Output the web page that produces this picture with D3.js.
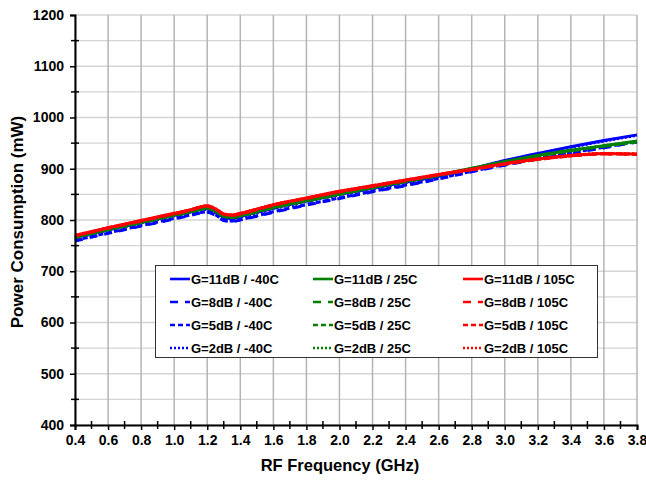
<!DOCTYPE html>
<meta charset="utf-8">
<style>
body { margin: 0; background: #fff; }
text { font-family: "Liberation Sans", Arial, sans-serif; font-weight: bold; fill: #000; }
</style>
<svg width="646" height="481"></svg>
<script src="https://d3js.org/d3.v7.min.js"></script>
<script>

// frequency points (GHz)
var freqs = [0.4,0.6,0.8,1.0,1.1,1.15,1.2,1.25,1.3,1.35,1.4,1.6,1.8,2.0,2.2,2.4,2.6,2.8,3.0,3.2,3.4,3.6,3.8];

// power consumption (mW), one array per gain / temperature
var g11_m40  = [766,781,795,809,816,820,822,816,805,803,807,823,837,850,862,874,886,900,916,930,943,955,966];
var g8_m40   = [759,774,788,802,809,813,815,809,799,797,800,815,829,842,855,867,880,894,907,919,930,941,952];
var g5_m40   = [760,775,789,803,810,814,816,810,800,798,801,816,830,843,856,868,881,895,908,920,931,942,953];
var g2_m40   = [765,780,794,808,815,819,821,815,804,802,806,822,836,849,861,873,885,899,915,929,942,954,965];

var g11_25   = [767,782,796,810,817,821,824,818,808,806,809,825,838,851,864,876,888,901,914,926,936,945,954];
var g8_25    = [766,781,795,809,816,820,823,817,807,805,808,824,837,850,863,875,887,900,913,925,935,944,953];
var g5_25    = [766,781,795,809,816,820,823,817,807,805,808,824,837,850,863,875,887,900,913,925,935,944,952];
var g2_25    = [766,781,795,809,816,820,823,817,807,805,808,824,838,851,863,875,887,900,913,925,936,945,953];

var g11_105  = [770,785,799,813,820,825,828,822,812,810,813,830,843,856,867,878,889,899,910,919,926,930,929];
var g8_105   = [769,784,798,812,819,824,827,821,811,809,812,829,842,855,866,877,888,898,909,918,925,929,928];
var g5_105   = [769,784,798,812,819,824,827,821,811,809,812,829,842,855,866,877,888,898,909,918,925,929,928];
var g2_105   = [770,785,799,813,820,825,828,822,812,810,813,830,843,856,867,878,889,899,910,919,926,930,929];

var gains = ["11dB", "8dB", "5dB", "2dB"];
var temps = ["-40C", "25C", "105C"];
var values = [
  [g11_m40, g11_25, g11_105],
  [g8_m40,  g8_25,  g8_105],
  [g5_m40,  g5_25,  g5_105],
  [g2_m40,  g2_25,  g2_105]
];

var xTicks = [0.4,0.6,0.8,1.0,1.2,1.4,1.6,1.8,2.0,2.2,2.4,2.6,2.8,3.0,3.2,3.4,3.6,3.8];
var yTicks = [400,500,600,700,800,900,1000,1100,1200];

var colors = {"-40C": "#0000ff", "25C": "#008000", "105C": "#ff0000"};
var dashes = {"11dB": null, "8dB": "8,7", "5dB": "5,3", "2dB": "2,2"};

var svg = d3.select("svg");

/* scales */
var x = d3.scaleLinear().domain([0.4, 3.8]).range([75, 637]);
var y = d3.scaleLinear().domain([400, 1200]).range([425, 15]);

/* gridlines */
var grid = svg.append("g");
grid.selectAll(".h")
  .data(d3.range(400, 1201, 50))
  .enter().append("line")
    .attr("x1", x(0.4)).attr("x2", x(3.8))
    .attr("y1", d => y(d)).attr("y2", d => y(d))
    .style("stroke", "#d4d4d4")
    .style("stroke-width", 1.3);
grid.selectAll(".v")
  .data(xTicks)
  .enter().append("line")
    .attr("y1", y(400)).attr("y2", y(1200))
    .attr("x1", d => x(d)).attr("x2", d => x(d))
    .style("stroke", "#b4b4b4")
    .style("stroke-width", 1.5);

/* series lines */
var line = d3.line()
    .x(function(d, i) { return x(freqs[i]); })
    .y(function(d) { return y(d); })
    .curve(d3.curveMonotoneX);

var series = [];
gains.forEach(function(g, gi) {
  temps.forEach(function(t, ti) {
    series.push({gain: g, temp: t, vals: values[gi][ti]});
  });
});
// red drawn last so it sits on top
series.sort(function(a, b) { return temps.indexOf(a.temp) - temps.indexOf(b.temp); });

svg.append("g").selectAll("path")
  .data(series)
  .enter().append("path")
    .attr("d", d => line(d.vals))
    .style("fill", "none")
    .style("stroke", d => colors[d.temp])
    .style("stroke-width", 3)
    .style("stroke-dasharray", d => dashes[d.gain]);

/* axes */
var xAxis = svg.append("g")
    .attr("transform", "translate(0," + y(400) + ")")
    .call(d3.axisBottom(x).tickValues(xTicks).tickSize(5).tickPadding(5)
          .tickFormat(d3.format(".1f")));

var yAxis = svg.append("g")
    .attr("transform", "translate(" + x(0.4) + ",0)")
    .call(d3.axisLeft(y).tickValues(yTicks).tickSize(5).tickPadding(6)
          .tickFormat(d3.format("d")));

[xAxis, yAxis].forEach(function(a) {
  a.selectAll(".tick text").style("font-size", "14px");
  a.select(".domain").style("stroke", "#000").style("stroke-width", 2);
  a.selectAll(".tick line").style("stroke", "#000").style("stroke-width", 1.5);
});

// minor ticks crossing the axes
svg.append("g").selectAll("line")
  .data(d3.range(0.5, 3.8, 0.2))
  .enter().append("line")
    .attr("x1", d => x(d)).attr("x2", d => x(d))
    .attr("y1", y(400) - 4).attr("y2", y(400) + 4)
    .style("stroke", "#000").style("stroke-width", 1.5);
svg.append("g").selectAll("line")
  .data(d3.range(450, 1200, 100))
  .enter().append("line")
    .attr("y1", d => y(d)).attr("y2", d => y(d))
    .attr("x1", x(0.4) - 4).attr("x2", x(0.4) + 4)
    .style("stroke", "#000").style("stroke-width", 1.5);

/* axis titles */
svg.append("text")
    .attr("x", 340).attr("y", 471)
    .attr("text-anchor", "middle")
    .style("font-size", "16.5px")
    .text("RF Frequency (GHz)");

svg.append("text")
    .attr("transform", "translate(23,222) rotate(-90)")
    .attr("text-anchor", "middle")
    .style("font-size", "17px")
    .text("Power Consumption (mW)");

/* legend */
var legend = svg.append("g");
legend.append("rect")
    .attr("x", 155.5).attr("y", 265.5)
    .attr("width", 442).attr("height", 92)
    .style("fill", "#fff").style("stroke", "#333").style("stroke-width", 1);

var colX = {"-40C": 170, "25C": 313, "105C": 463};
gains.forEach(function(g, gi) {
  temps.forEach(function(t) {
    var ly = 279 + gi * 23;
    legend.append("line")
        .attr("x1", colX[t]).attr("x2", colX[t] + 20)
        .attr("y1", ly).attr("y2", ly)
        .style("stroke", colors[t])
        .style("stroke-width", 2.6)
        .style("stroke-dasharray", dashes[g]);
    legend.append("text")
        .attr("x", colX[t] + 21).attr("y", ly + 5)
        .style("font-size", "13px")
        .text("G=" + g + " / " + t);
  });
});

</script>
